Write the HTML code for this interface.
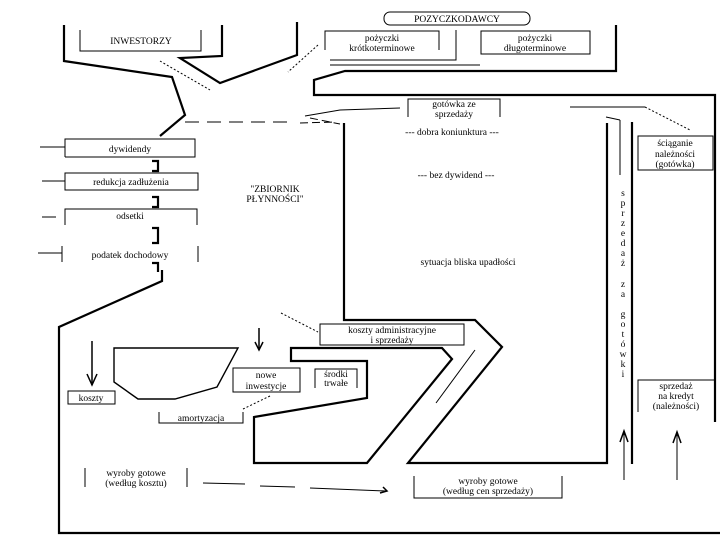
<!DOCTYPE html>
<html><head><meta charset="utf-8"><style>
html,body{margin:0;padding:0;background:#fff;overflow:hidden;}
svg{display:block;}
text{font-family:"Liberation Serif",serif;font-size:9.5px;fill:#000;}
</style></head><body>
<svg width="720" height="540" viewBox="0 0 720 540" xmlns="http://www.w3.org/2000/svg">
<rect width="720" height="540" fill="#fff"/>
<g fill="none" stroke="#000" stroke-width="2.2">
<polyline points="64,25 64,61 172,77 185,115 160,136"/>
<polyline points="222,25 222,56 180,58 220,83 297,55 297,22"/>
<polyline points="616,25 616,71 345,71 314,80 314,95 715,95 715,422"/>
<polyline points="344,123 344,320 475,320 502,347 408,463 607,463 607,123"/>
<line x1="632" y1="122" x2="632" y2="464"/>
<polygon points="291,348 442,348 452,359 367,463 254,463 254,417 367,398 367,361 291,361"/>
<polyline points="162,270 162,281 59,327 59,533 720,533"/>
<polyline points="152,161 158,161 158,171 152,171"/>
<polyline points="152,197 158,197 158,207 152,207"/>
<polyline points="152,228 158,228 158,243 152,243"/>
<polyline points="152,263 158,263 158,272"/>
</g>
<g fill="none" stroke="#000" stroke-width="1.4">
<polygon points="114,348 238,348 217,387 175,399 138,399 114,382"/>
</g>
<g fill="none" stroke="#000" stroke-width="1">
<polyline points="80,30 80,51 201,51 201,30"/>
<polyline points="325,50 325,31 439,31 439,50"/>
<polyline points="456,30 456,60 330,60"/>
<line x1="330" y1="65" x2="480" y2="65"/>
<rect x="481" y="31" width="109" height="23"/>
<rect x="384" y="12" width="146" height="13" rx="6"/>
<polyline points="408,117 408,99 500,99 500,117"/>
<polyline points="400,108 340,110 305,116"/>
<path d="M300,123 L335,122 M310,118 L340,124" stroke-dasharray="8,4"/>
<line x1="185" y1="122" x2="295" y2="122" stroke-dasharray="14,8"/>
<rect x="638" y="136" width="75" height="34"/>
<line x1="570" y1="107" x2="645" y2="107"/>
<line x1="645" y1="107" x2="690" y2="130" stroke-dasharray="2,2"/>
<line x1="620" y1="120" x2="620" y2="175"/>
<line x1="620" y1="120" x2="606" y2="117"/>
<polyline points="65,157 65,139 195,139 195,157 65,157"/>
<rect x="65" y="173" width="133" height="17"/>
<polyline points="65,225 65,209 197,209 197,225"/>
<line x1="62" y1="246" x2="62" y2="262"/><line x1="198" y1="246" x2="198" y2="262"/>
<line x1="40" y1="147" x2="65" y2="147"/>
<line x1="42" y1="181" x2="65" y2="181"/>
<line x1="42" y1="217" x2="56" y2="217"/>
<line x1="38" y1="253" x2="62" y2="253"/>
<line x1="160" y1="61" x2="210" y2="90" stroke-dasharray="2,2"/>
<line x1="318" y1="45" x2="288" y2="72" stroke-dasharray="2,2"/>
<line x1="281" y1="313" x2="318" y2="332" stroke-dasharray="2,2"/>
<line x1="270" y1="396" x2="243" y2="409" stroke-dasharray="2,2"/>
<line x1="475" y1="350" x2="436" y2="403"/>
<rect x="320" y="324" width="144" height="21"/>
<rect x="68" y="391" width="47" height="13"/>
<polyline points="159,412 159,423 243,423 243,412"/>
<rect x="233" y="368" width="67" height="24"/>
<polyline points="315,388 315,369 357,369 357,388"/>
<line x1="85" y1="468" x2="85" y2="487"/><line x1="187" y1="468" x2="187" y2="487"/>
<polyline points="414,476 414,498 562,498 562,476"/>
<polyline points="638,412 638,380 715,380 715,412"/>
<path d="M203,483 L245,484 M260,486 L295,487 M310,488 L386,491"/>
<line x1="624" y1="480" x2="624" y2="431"/>
<line x1="677" y1="480" x2="677" y2="432"/>
</g>
<g fill="none" stroke="#000" stroke-width="1.5">
<line x1="92" y1="341" x2="92" y2="385"/>
<polyline points="87,374 92,385 97,374"/>
<line x1="259" y1="328" x2="259" y2="350"/>
<polyline points="255,342 259,350 263,342"/>
<polyline points="620,442 624,431 628,442"/>
<polyline points="673,443 677,432 681,443"/>
<polyline points="383,487 387,491 380,493"/>
</g>
<text x="141" y="44" text-anchor="middle" font-size="10.5">INWESTORZY</text>
<text x="457" y="22" text-anchor="middle" font-size="10">POZYCZKODAWCY</text>
<text x="382" y="41" text-anchor="middle">pożyczki</text>
<text x="382" y="51" text-anchor="middle">krótkoterminowe</text>
<text x="535" y="41" text-anchor="middle">pożyczki</text>
<text x="535" y="51" text-anchor="middle">długoterminowe</text>
<text x="454" y="107" text-anchor="middle">gotówka ze</text>
<text x="454" y="117" text-anchor="middle">sprzedaży</text>
<text x="675" y="146" text-anchor="middle">ściąganie</text>
<text x="675" y="157" text-anchor="middle">należności</text>
<text x="675" y="167" text-anchor="middle">(gotówka)</text>
<text x="452" y="135" text-anchor="middle">--- dobra koniunktura ---</text>
<text x="456" y="178" text-anchor="middle">--- bez dywidend ---</text>
<text x="468" y="265" text-anchor="middle">sytuacja bliska upadłości</text>
<text x="275" y="192" text-anchor="middle">"ZBIORNIK</text>
<text x="275" y="202" text-anchor="middle">PŁYNNOŚCI"</text>
<text x="130" y="152" text-anchor="middle">dywidendy</text>
<text x="131" y="185" text-anchor="middle">redukcja zadłużenia</text>
<text x="130" y="219" text-anchor="middle">odsetki</text>
<text x="130" y="258" text-anchor="middle">podatek dochodowy</text>
<text x="392" y="333" text-anchor="middle">koszty administracyjne</text>
<text x="392" y="343" text-anchor="middle">i sprzedaży</text>
<text x="91" y="401" text-anchor="middle">koszty</text>
<text x="201" y="421" text-anchor="middle">amortyzacja</text>
<text x="266" y="378" text-anchor="middle">nowe</text>
<text x="266" y="389" text-anchor="middle">inwestycje</text>
<text x="336" y="377" text-anchor="middle">środki</text>
<text x="336" y="386" text-anchor="middle">trwałe</text>
<text x="136" y="476" text-anchor="middle">wyroby gotowe</text>
<text x="136" y="486" text-anchor="middle">(według kosztu)</text>
<text x="488" y="484" text-anchor="middle">wyroby gotowe</text>
<text x="488" y="494" text-anchor="middle">(według cen sprzedaży)</text>
<text x="676" y="389" text-anchor="middle">sprzedaż</text>
<text x="676" y="399" text-anchor="middle">na kredyt</text>
<text x="676" y="409" text-anchor="middle">(należności)</text>
<g text-anchor="middle" font-size="8">
<text x="623" y="196">s</text><text x="623" y="206">p</text><text x="623" y="216">r</text><text x="623" y="226">z</text><text x="623" y="236">e</text><text x="623" y="246">d</text><text x="623" y="256">a</text><text x="623" y="266">ż</text>
<text x="623" y="287">z</text><text x="623" y="297">a</text>
<text x="623" y="317">g</text><text x="623" y="327">o</text><text x="623" y="337">t</text><text x="623" y="347">ó</text><text x="623" y="357">w</text><text x="623" y="367">k</text><text x="623" y="377">i</text>
</g>
</svg>
</body></html>
